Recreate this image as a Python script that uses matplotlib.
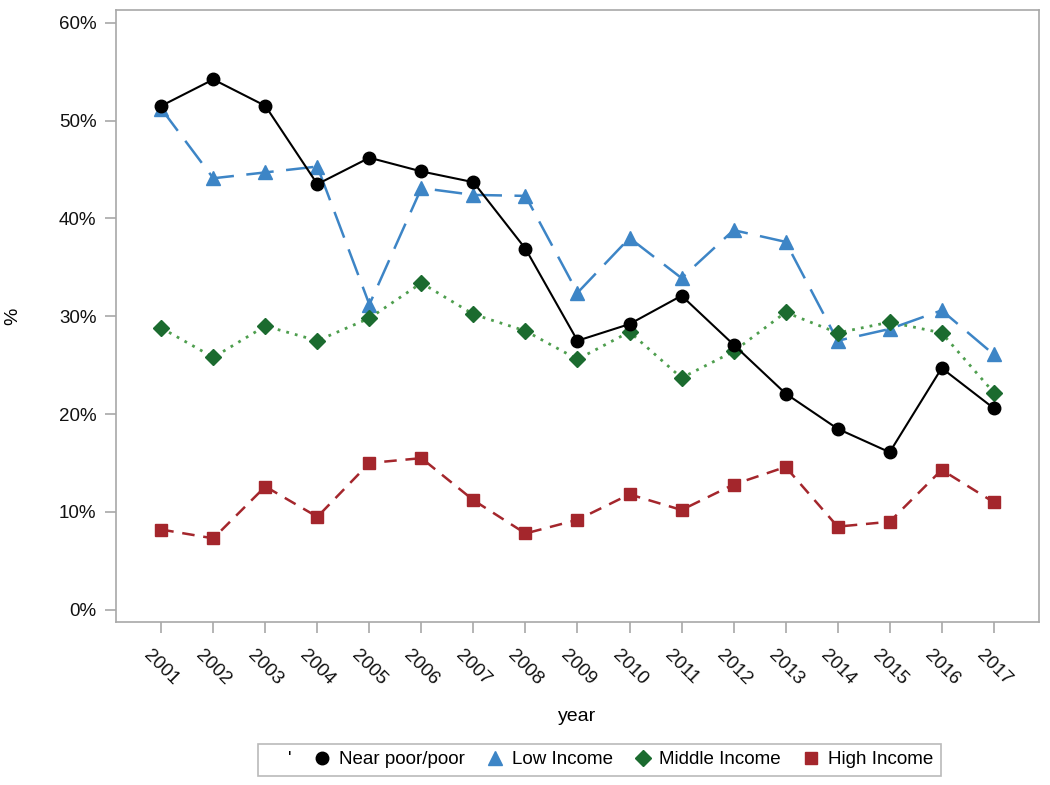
import matplotlib
matplotlib.use('Agg')
import matplotlib.pyplot as plt
from matplotlib.lines import Line2D
from matplotlib.ticker import FuncFormatter

years = list(range(2001, 2018))
near_poor = [51.5, 54.2, 51.5, 43.5, 46.2, 44.8, 43.7, 36.9, 27.5, 29.2, 32.1, 27.1, 22.1, 18.5, 16.1, 24.7, 20.6]
low_income = [51.2, 44.1, 44.7, 45.3, 31.2, 43.1, 42.4, 42.3, 32.4, 38.0, 33.9, 38.8, 37.6, 27.5, 28.7, 30.6, 26.1]
middle_income = [28.8, 25.8, 29.0, 27.5, 29.8, 33.4, 30.2, 28.5, 25.6, 28.4, 23.7, 26.4, 30.4, 28.3, 29.4, 28.3, 22.2]
high_income = [8.2, 7.3, 12.6, 9.5, 15.0, 15.5, 11.2, 7.8, 9.2, 11.8, 10.2, 12.8, 14.6, 8.5, 9.0, 14.3, 11.0]
yticks = [0, 10, 20, 30, 40, 50, 60]

plt.rcParams['font.family'] = ['Liberation Sans', 'DejaVu Sans']

black = '#000000'
blue = '#3d85c6'
green = '#1b6b2f'
green_line = '#4e9e4e'
red = '#a4262c'
frame = '#a8a8a8'

fig = plt.figure(figsize=(10.5, 7.85), dpi=100)
ax = fig.add_axes([0.1105, 0.2076, 0.879, 0.7797])

ax.plot(years, near_poor, color=black, lw=1.5, marker='o', ms=9, zorder=4)
ax.plot(years, low_income, color=blue, lw=1.8, dashes=(11, 5), marker='^', ms=10, zorder=3)
ax.plot(years, middle_income, color=green_line, lw=2.0, dashes=(1, 2.2), marker='D',
        ms=8, markerfacecolor=green, markeredgecolor=green, zorder=3)
ax.plot(years, high_income, color=red, lw=1.8, dashes=(5, 3.5), marker='s', ms=8, zorder=3)

ax.set_xlim(2000.13, 2017.87)
ax.set_ylim(-1.25, 61.3)
ax.set_xticks(years)
ax.set_xticklabels([str(y) for y in years], rotation=-45, ha='center', va='top')
ax.set_yticks(yticks)
ax.yaxis.set_major_formatter(FuncFormatter(lambda v, p: f'{v:.0f}%'))

for s in ax.spines.values():
    s.set_color(frame)
    s.set_linewidth(1.2)
ax.tick_params(colors=frame, labelcolor='#111111', labelsize=13.5, length=8, width=1.2)
ax.tick_params(axis='x', pad=10)
ax.tick_params(axis='y', pad=6)

ax.set_xlabel('year', fontsize=14, labelpad=14)
ax.set_ylabel('%', fontsize=14)
ax.yaxis.set_label_coords(-0.103, 0.5)

handles = [
    Line2D([], [], linestyle='none'),
    Line2D([], [], linestyle='none', marker='o', color=black, ms=9),
    Line2D([], [], linestyle='none', marker='^', color=blue, ms=10),
    Line2D([], [], linestyle='none', marker='D', color=green, ms=8),
    Line2D([], [], linestyle='none', marker='s', color=red, ms=8),
]
labels = ["'", 'Near poor/poor', 'Low Income', 'Middle Income', 'High Income']
leg = fig.legend(handles, labels, ncol=5, loc='center', bbox_to_anchor=(0.571, 0.032),
                 frameon=True, fancybox=False, fontsize=13.5, handlelength=0.6,
                 handletextpad=0.6, columnspacing=1.3, borderpad=0.4)
leg.get_frame().set_edgecolor(frame)
leg.get_frame().set_linewidth(1.2)

fig.savefig('out.png', dpi=100)
